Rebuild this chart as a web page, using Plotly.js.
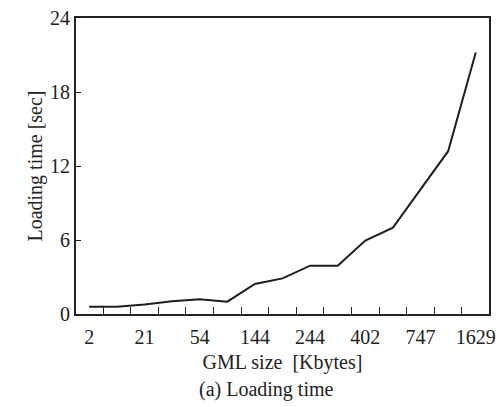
<!DOCTYPE html>
<html><head><meta charset="utf-8">
<script src="https://cdn.plot.ly/plotly-3.0.1.min.js"></script>
<style>html,body{margin:0;padding:0;background:#fff;}#chart{width:501px;height:407px;}</style>
</head><body><div id="chart"></div>
<script>
// GML sample index (15 files); labels shown on every other file
const sampleIndex = [0,1,2,3,4,5,6,7,8,9,10,11,12,13,14];
const loadingTime = [0.59,0.59,0.78,1.03,1.19,1.0,2.43,2.89,3.92,3.92,5.95,7.0,10.1,13.2,21.2];
const labelIndex = [0,2,4,6,8,10,12,14];
const labelText = ['2','21','54','144','244','402','747','1629'];
const yTicks = [0,6,12,18,24];

function f(size){ return {family:'Liberation Serif, Times New Roman, serif', size:size || 20, color:'#222'}; }
const data = [{
  x: sampleIndex, y: loadingTime, type:'scatter', mode:'lines',
  line:{color:'#1e1e1e', width:2}, hoverinfo:'skip'
}];
const layout = {
  width:501, height:407,
  margin:{l:76, r:12, t:18, b:93},
  paper_bgcolor:'#fff', plot_bgcolor:'#fff',
  showlegend:false, font:f(),
  xaxis:{
    range:[-0.48,14.48], tickmode:'array', tickvals:labelIndex, ticktext:labelText,
    ticks:'outside', ticklen:4, tickcolor:'rgba(0,0,0,0)', showgrid:false, zeroline:false, showline:true, mirror:true,
    linecolor:'#222', linewidth:2, tickfont:f(),
    minor:{tick0:0.5, dtick:1, ticks:'inside', ticklen:7, tickcolor:'#222', tickwidth:1, showgrid:false},
    title:{text:'GML size  [Kbytes]', font:f(), standoff:8}
  },
  yaxis:{
    range:[0,24], tickmode:'array', tickvals:yTicks,
    ticks:'inside', ticklen:5, tickcolor:'#222', showgrid:false, zeroline:false,
    showline:true, mirror:true, linecolor:'#222', linewidth:2, tickfont:f(),
    title:{text:'Loading time [sec]', font:f(), standoff:2}
  },
  annotations:[{text:'(a) Loading time', xref:'paper', yref:'paper', x:0.462, y:-0.255,
    xanchor:'center', yanchor:'middle', showarrow:false, font:f(20)}]
};
Plotly.newPlot('chart', data, layout, {staticPlot:true, displayModeBar:false});
</script></body></html>
